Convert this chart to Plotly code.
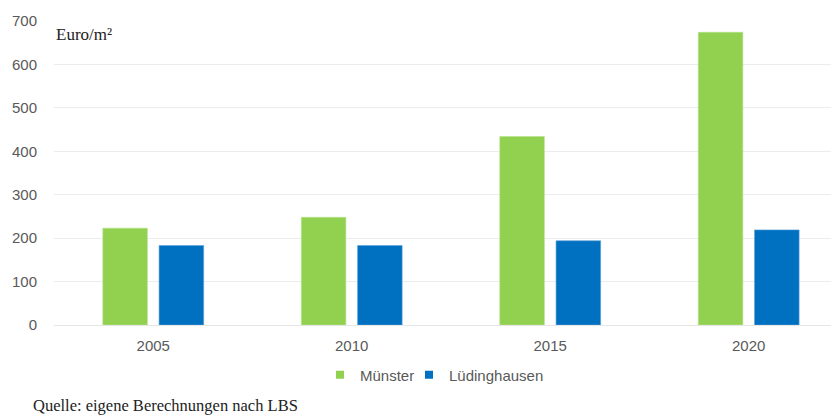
import plotly.graph_objects as go

years = ["2005", "2010", "2015", "2020"]
muenster = [223, 248, 434, 674]
luedinghausen = [183, 183, 194, 219]
series_names = ["Münster", "Lüdinghausen"]
y_ticks = [0, 100, 200, 300, 400, 500, 600, 700]

green = "#92D050"
blue = "#0070C0"
gray = "#595959"

# the page body has an 8px margin; work in page pixels and convert
OFF = 8
W, H = 839 - OFF, 416 - OFF
# plot area in page pixels: x 54..847 (cropped at 839), y 21..325
PL, PR, PT, PB = 54, 839, 21, 325


def px_x(px):
    return (px - PL) / (PR - PL)


def px_y(py):
    return (PB - py) / (PB - PT)


def cx(px):
    return (px - OFF) / W


def cy(py):
    return 1 - (py - OFF) / H


fig = go.Figure()
fig.add_trace(go.Bar(x=years, y=muenster, name=series_names[0],
                     marker=dict(color=green, line=dict(color="#b5e08a", width=0.6)),
                     showlegend=False))
fig.add_trace(go.Bar(x=years, y=luedinghausen, name=series_names[1],
                     marker=dict(color=blue, line=dict(color="#5a9fd8", width=0.6)),
                     showlegend=False))
# legend entries with small square symbols
fig.add_trace(go.Scatter(x=[None], y=[None], mode="markers", name=series_names[0],
                         marker=dict(symbol="square", size=8, color=green), legend="legend"))
fig.add_trace(go.Scatter(x=[None], y=[None], mode="markers", name=series_names[1],
                         marker=dict(symbol="square", size=8, color=blue), legend="legend2"))

leg_common = dict(orientation="h", xref="container", yref="container",
                  xanchor="left", yanchor="middle", y=cy(375),
                  font=dict(size=15, color=gray), itemwidth=30,
                  bgcolor="rgba(0,0,0,0)", borderwidth=0)

fig.update_layout(
    width=W, height=H,
    margin=dict(l=PL - OFF, r=W - (PR - OFF), t=PT - OFF, b=H - (PB - OFF), autoexpand=False),
    paper_bgcolor="white", plot_bgcolor="white",
    barmode="group", bargap=0.433, bargroupgap=0.208,
    font=dict(family="Liberation Sans, Arial, sans-serif", size=15, color=gray),
    xaxis=dict(type="category", range=[-0.5, 3.455], showgrid=False, showline=False,
               ticks="", automargin=False, ticklabelstandoff=10,
               tickfont=dict(size=15, color=gray)),
    yaxis=dict(range=[0, 700], tickvals=y_ticks, showgrid=True, gridcolor="#ececec",
               gridwidth=1, zeroline=True, zerolinecolor="#e6e6e6", zerolinewidth=1,
               showline=False, ticks="", ticklabelstandoff=16, automargin=False,
               tickfont=dict(size=15, color=gray)),
    legend=dict(leg_common, x=cx(320)),
    legend2=dict(leg_common, x=cx(409)),
    annotations=[
        dict(text="Euro/m²", xref="paper", yref="paper", x=px_x(54), y=px_y(35),
             xanchor="left", yanchor="middle", showarrow=False,
             font=dict(family="Liberation Serif, Times New Roman, serif", size=17, color="#222222")),
        dict(text="Quelle: eigene Berechnungen nach LBS", xref="paper", yref="paper",
             x=px_x(31), y=px_y(405), xanchor="left", yanchor="middle", showarrow=False,
             font=dict(family="Liberation Serif, Times New Roman, serif", size=16.5, color="#222222")),
    ],
)

fig.write_html("out.html")
